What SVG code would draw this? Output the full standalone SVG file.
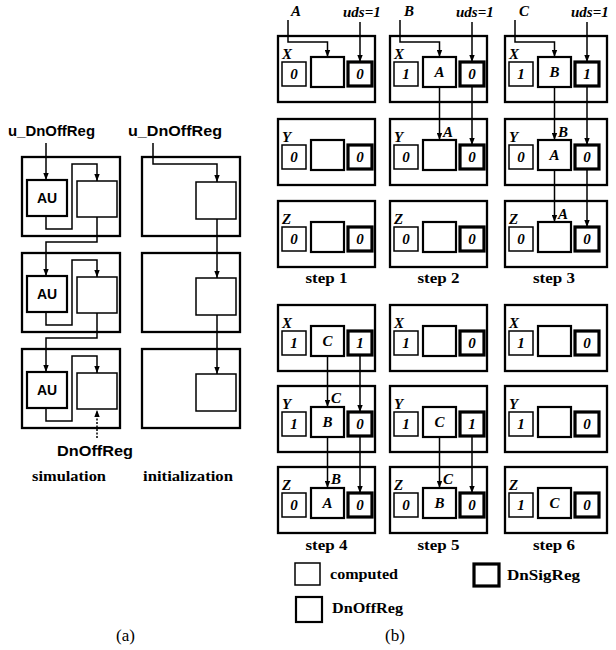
<svg xmlns="http://www.w3.org/2000/svg" width="616" height="650" viewBox="0 0 616 650">
<defs>
<marker id="ah" markerWidth="7" markerHeight="6" refX="7" refY="3" orient="auto" markerUnits="userSpaceOnUse"><path d="M0,0.3 L7,3 L0,5.7 z" fill="#000"/></marker>
<style>
.ob{fill:none;stroke:#000;stroke-width:2.3}
.cp{fill:#fff;stroke:#000;stroke-width:1.5}
.off{fill:#fff;stroke:#000;stroke-width:2.2}
.sig{fill:#fff;stroke:#000;stroke-width:3.2}
.ln{fill:none;stroke:#000;stroke-width:1.5}
.ar{marker-end:url(#ah)}
.dash{stroke-dasharray:2,1.5}
.sans{font-family:"Liberation Sans",Arial,sans-serif;font-weight:bold}
.it{font-family:"Liberation Serif","Times New Roman",serif;font-weight:bold;font-style:italic;font-size:15px}
.v{font-family:"Liberation Serif","Times New Roman",serif;font-weight:bold;font-style:italic;font-size:15px;text-anchor:middle}
.sb{font-family:"Liberation Serif","Times New Roman",serif;font-weight:bold;font-size:15px}
.cap{font-family:"Liberation Serif","Times New Roman",serif;font-size:17px}
</style>
</defs>
<rect width="616" height="650" fill="#fff"/>

<!-- Part (a) -->
<g id="a-labels">
<text class="sans" x="8" y="136" font-size="15" textLength="87" lengthAdjust="spacingAndGlyphs">u_DnOffReg</text>
<text class="sans" x="128" y="136" font-size="15" textLength="94" lengthAdjust="spacingAndGlyphs">u_DnOffReg</text>
<text class="sans" x="57" y="456" font-size="15" textLength="76" lengthAdjust="spacingAndGlyphs">DnOffReg</text>
<text class="sb" x="32" y="481" textLength="74" lengthAdjust="spacingAndGlyphs">simulation</text>
<text class="sb" x="143" y="481" textLength="90" lengthAdjust="spacingAndGlyphs">initialization</text>
<text class="cap" x="116" y="641">(a)</text>
</g>
<g id="sim1"><rect class="ob" x="22" y="157" width="98" height="79"/><rect class="off" x="27" y="180" width="40" height="36"/><text class="sans" x="47" y="203" font-size="14" text-anchor="middle">AU</text><rect class="cp" x="77" y="181" width="40" height="36"/></g>
<g id="sim2"><rect class="ob" x="22" y="253" width="98" height="79"/><rect class="off" x="27" y="276" width="40" height="36"/><text class="sans" x="47" y="299" font-size="14" text-anchor="middle">AU</text><rect class="cp" x="77" y="277" width="40" height="36"/></g>
<g id="sim3"><rect class="ob" x="22" y="349" width="98" height="79"/><rect class="off" x="27" y="372" width="40" height="36"/><text class="sans" x="47" y="395" font-size="14" text-anchor="middle">AU</text><rect class="cp" x="77" y="373" width="40" height="36"/></g>
<g id="init1"><rect class="ob" x="142" y="157" width="98" height="79"/><rect class="cp" x="196" y="182" width="40" height="37"/></g>
<g id="init2"><rect class="ob" x="142" y="253" width="98" height="79"/><rect class="cp" x="196" y="278" width="40" height="37"/></g>
<g id="init3"><rect class="ob" x="142" y="349" width="98" height="79"/><rect class="cp" x="196" y="374" width="40" height="37"/></g>

<!-- Part (b) nodes -->
<g id="step1">
<g id="s1X"><rect class="ob" x="278" y="36" width="97" height="66"/><text class="it" x="282" y="59">X</text><rect class="cp" x="282" y="62" width="24" height="24"/><text class="v" x="294" y="79">0</text><rect class="off" x="311" y="57" width="33" height="30"/><rect class="sig" x="348" y="62" width="24" height="24"/><text class="v" x="360" y="79">0</text></g>
<g id="s1Y"><rect class="ob" x="278" y="119" width="97" height="66"/><text class="it" x="282" y="142">Y</text><rect class="cp" x="282" y="145" width="24" height="24"/><text class="v" x="294" y="162">0</text><rect class="off" x="311" y="140" width="33" height="30"/><rect class="sig" x="348" y="145" width="24" height="24"/><text class="v" x="360" y="162">0</text></g>
<g id="s1Z"><rect class="ob" x="278" y="201" width="97" height="66"/><text class="it" x="282" y="224">Z</text><rect class="cp" x="282" y="227" width="24" height="24"/><text class="v" x="294" y="244">0</text><rect class="off" x="311" y="222" width="33" height="30"/><rect class="sig" x="348" y="227" width="24" height="24"/><text class="v" x="360" y="244">0</text></g>
<text class="sb" x="326.5" y="283" text-anchor="middle" textLength="42" lengthAdjust="spacingAndGlyphs">step 1</text>
</g>
<g id="step2">
<g id="s2X"><rect class="ob" x="390" y="36" width="97" height="66"/><text class="it" x="394" y="59">X</text><rect class="cp" x="394" y="62" width="24" height="24"/><text class="v" x="406" y="79">1</text><rect class="off" x="423" y="57" width="33" height="30"/><text class="v" x="439.5" y="77">A</text><rect class="sig" x="460" y="62" width="24" height="24"/><text class="v" x="472" y="79">0</text></g>
<g id="s2Y"><rect class="ob" x="390" y="119" width="97" height="66"/><text class="it" x="394" y="142">Y</text><rect class="cp" x="394" y="145" width="24" height="24"/><text class="v" x="406" y="162">0</text><rect class="off" x="423" y="140" width="33" height="30"/><rect class="sig" x="460" y="145" width="24" height="24"/><text class="v" x="472" y="162">0</text></g>
<g id="s2Z"><rect class="ob" x="390" y="201" width="97" height="66"/><text class="it" x="394" y="224">Z</text><rect class="cp" x="394" y="227" width="24" height="24"/><text class="v" x="406" y="244">0</text><rect class="off" x="423" y="222" width="33" height="30"/><rect class="sig" x="460" y="227" width="24" height="24"/><text class="v" x="472" y="244">0</text></g>
<text class="sb" x="438.5" y="283" text-anchor="middle" textLength="42" lengthAdjust="spacingAndGlyphs">step 2</text>
</g>
<g id="step3">
<g id="s3X"><rect class="ob" x="505" y="36" width="102" height="66"/><text class="it" x="509" y="59">X</text><rect class="cp" x="509" y="62" width="24" height="24"/><text class="v" x="521" y="79">1</text><rect class="off" x="538" y="57" width="33" height="30"/><text class="v" x="554.5" y="77">B</text><rect class="sig" x="575" y="62" width="24" height="24"/><text class="v" x="587" y="79">1</text></g>
<g id="s3Y"><rect class="ob" x="505" y="119" width="102" height="66"/><text class="it" x="509" y="142">Y</text><rect class="cp" x="509" y="145" width="24" height="24"/><text class="v" x="521" y="162">0</text><rect class="off" x="538" y="140" width="33" height="30"/><text class="v" x="554.5" y="160">A</text><rect class="sig" x="575" y="145" width="24" height="24"/><text class="v" x="587" y="162">0</text></g>
<g id="s3Z"><rect class="ob" x="505" y="201" width="102" height="66"/><text class="it" x="509" y="224">Z</text><rect class="cp" x="509" y="227" width="24" height="24"/><text class="v" x="521" y="244">0</text><rect class="off" x="538" y="222" width="33" height="30"/><rect class="sig" x="575" y="227" width="24" height="24"/><text class="v" x="587" y="244">0</text></g>
<text class="sb" x="554" y="283" text-anchor="middle" textLength="42" lengthAdjust="spacingAndGlyphs">step 3</text>
</g>
<g id="step4">
<g id="s4X"><rect class="ob" x="278" y="305" width="97" height="66"/><text class="it" x="282" y="328">X</text><rect class="cp" x="282" y="331" width="24" height="24"/><text class="v" x="294" y="348">1</text><rect class="off" x="311" y="326" width="33" height="30"/><text class="v" x="327.5" y="346">C</text><rect class="sig" x="348" y="331" width="24" height="24"/><text class="v" x="360" y="348">1</text></g>
<g id="s4Y"><rect class="ob" x="278" y="386" width="97" height="66"/><text class="it" x="282" y="409">Y</text><rect class="cp" x="282" y="412" width="24" height="24"/><text class="v" x="294" y="429">1</text><rect class="off" x="311" y="407" width="33" height="30"/><text class="v" x="327.5" y="427">B</text><rect class="sig" x="348" y="412" width="24" height="24"/><text class="v" x="360" y="429">0</text></g>
<g id="s4Z"><rect class="ob" x="278" y="467" width="97" height="66"/><text class="it" x="282" y="490">Z</text><rect class="cp" x="282" y="493" width="24" height="24"/><text class="v" x="294" y="510">0</text><rect class="off" x="311" y="488" width="33" height="30"/><text class="v" x="327.5" y="508">A</text><rect class="sig" x="348" y="493" width="24" height="24"/><text class="v" x="360" y="510">0</text></g>
<text class="sb" x="326.5" y="550" text-anchor="middle" textLength="42" lengthAdjust="spacingAndGlyphs">step 4</text>
</g>
<g id="step5">
<g id="s5X"><rect class="ob" x="390" y="305" width="97" height="66"/><text class="it" x="394" y="328">X</text><rect class="cp" x="394" y="331" width="24" height="24"/><text class="v" x="406" y="348">1</text><rect class="off" x="423" y="326" width="33" height="30"/><rect class="sig" x="460" y="331" width="24" height="24"/><text class="v" x="472" y="348">0</text></g>
<g id="s5Y"><rect class="ob" x="390" y="386" width="97" height="66"/><text class="it" x="394" y="409">Y</text><rect class="cp" x="394" y="412" width="24" height="24"/><text class="v" x="406" y="429">1</text><rect class="off" x="423" y="407" width="33" height="30"/><text class="v" x="439.5" y="427">C</text><rect class="sig" x="460" y="412" width="24" height="24"/><text class="v" x="472" y="429">1</text></g>
<g id="s5Z"><rect class="ob" x="390" y="467" width="97" height="66"/><text class="it" x="394" y="490">Z</text><rect class="cp" x="394" y="493" width="24" height="24"/><text class="v" x="406" y="510">0</text><rect class="off" x="423" y="488" width="33" height="30"/><text class="v" x="439.5" y="508">B</text><rect class="sig" x="460" y="493" width="24" height="24"/><text class="v" x="472" y="510">0</text></g>
<text class="sb" x="438.5" y="550" text-anchor="middle" textLength="42" lengthAdjust="spacingAndGlyphs">step 5</text>
</g>
<g id="step6">
<g id="s6X"><rect class="ob" x="505" y="305" width="102" height="66"/><text class="it" x="509" y="328">X</text><rect class="cp" x="509" y="331" width="24" height="24"/><text class="v" x="521" y="348">1</text><rect class="off" x="538" y="326" width="33" height="30"/><rect class="sig" x="575" y="331" width="24" height="24"/><text class="v" x="587" y="348">0</text></g>
<g id="s6Y"><rect class="ob" x="505" y="386" width="102" height="66"/><text class="it" x="509" y="409">Y</text><rect class="cp" x="509" y="412" width="24" height="24"/><text class="v" x="521" y="429">1</text><rect class="off" x="538" y="407" width="33" height="30"/><rect class="sig" x="575" y="412" width="24" height="24"/><text class="v" x="587" y="429">0</text></g>
<g id="s6Z"><rect class="ob" x="505" y="467" width="102" height="66"/><text class="it" x="509" y="490">Z</text><rect class="cp" x="509" y="493" width="24" height="24"/><text class="v" x="521" y="510">1</text><rect class="off" x="538" y="488" width="33" height="30"/><text class="v" x="554.5" y="508">C</text><rect class="sig" x="575" y="493" width="24" height="24"/><text class="v" x="587" y="510">0</text></g>
<text class="sb" x="554" y="550" text-anchor="middle" textLength="42" lengthAdjust="spacingAndGlyphs">step 6</text>
</g>

<!-- input labels -->
<g id="inputs">
<text class="it" x="291" y="16">A</text>
<text class="it" x="343" y="17">uds=1</text>
<text class="it" x="404" y="16">B</text>
<text class="it" x="456" y="17">uds=1</text>
<text class="it" x="519" y="16">C</text>
<text class="it" x="571" y="17">uds=1</text>
</g>

<!-- legend -->
<g id="legend">
<rect class="cp" x="295" y="563" width="25" height="22"/>
<text class="sb" x="330" y="579" font-size="13" textLength="68" lengthAdjust="spacingAndGlyphs">computed</text>
<rect class="sig" x="474" y="564" width="25" height="22"/>
<text class="sb" x="507" y="580" font-size="13" textLength="73" lengthAdjust="spacingAndGlyphs">DnSigReg</text>
<rect class="off" x="296" y="597" width="26" height="25"/>
<text class="sb" x="332" y="613" font-size="13" textLength="71" lengthAdjust="spacingAndGlyphs">DnOffReg</text>
<text class="cap" x="385" y="641">(b)</text>
</g>

<!-- connectors -->
<g id="connectors">
<path class="ln ar" d="M46,143 V180"/>
<path class="ln ar" d="M46,216 V229 H72 V164 H97 V181"/>
<path class="ln ar" d="M97,217 V242 H46 V276"/>
<path class="ln ar" d="M46,312 V325 H72 V260 H97 V277"/>
<path class="ln ar" d="M97,313 V338 H46 V372"/>
<path class="ln ar" d="M46,408 V421 H72 V356 H97 V373"/>
<path class="ln ar dash" d="M97,438 V410"/>
<path class="ln ar" d="M153,143 V164 H217 V182"/>
<path class="ln ar" d="M217,219 V278"/>
<path class="ln ar" d="M217,315 V374"/>

<path class="ln ar" d="M288,20 V42 H327.5 V57"/>
<path class="ln ar" d="M360,22 V62"/>

<path class="ln ar" d="M400,20 V42 H439.5 V57"/>
<path class="ln ar" d="M472,22 V62"/>
<path class="ln ar" d="M439.5,87 V140"/>
<path class="ln ar" d="M472,86 V145"/>

<path class="ln ar" d="M515,20 V42 H554.5 V57"/>
<path class="ln ar" d="M587,22 V62"/>
<path class="ln ar" d="M554.5,87 V140"/>
<path class="ln ar" d="M587,86 V145"/>
<path class="ln ar" d="M554.5,170 V222"/>
<path class="ln ar" d="M587,169 V227"/>

<path class="ln ar" d="M327.5,356 V407"/>
<path class="ln ar" d="M360,355 V412"/>
<path class="ln ar" d="M327.5,437 V488"/>
<path class="ln ar" d="M360,436 V493"/>

<path class="ln ar" d="M439.5,437 V488"/>
<path class="ln ar" d="M472,436 V493"/>

<text class="it" x="443" y="137">A</text>
<text class="it" x="558" y="137">B</text>
<text class="it" x="558" y="219">A</text>
<text class="it" x="331" y="403">C</text>
<text class="it" x="331" y="484">B</text>
<text class="it" x="443" y="484">C</text>
</g>
</svg>
